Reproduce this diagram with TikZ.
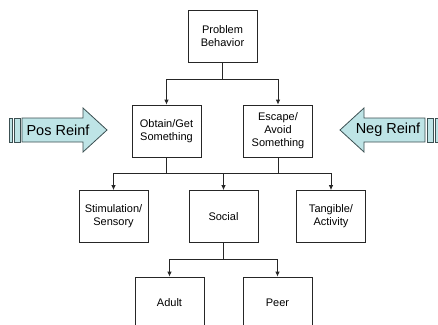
\documentclass[tikz,border=0pt]{standalone}
\usepackage{fontspec}
\setmainfont{Liberation Sans}
\usetikzlibrary{arrows.meta}
\definecolor{reinf}{RGB}{190,228,230}
\definecolor{reinfline}{RGB}{60,80,82}
\tikzset{
  fbox/.style={draw=black!85, line width=0.8pt, fill=white, minimum width=69pt,
    minimum height=52pt, align=center, inner sep=0pt,
    font=\fontsize{11}{13}\selectfont},
  link/.style={draw=black!85, line width=0.8pt},
  tip/.style={-{Latex[length=5pt,width=4.5pt]}},
  bigarrow/.style={draw=reinfline, line width=0.8pt, fill=reinf},
  bigtext/.style={font=\fontsize{14.5}{16}\selectfont, inner sep=0pt}
}
\begin{document}
\begin{tikzpicture}[x=1pt,y=-1pt]
    \useasboundingbox (0,0) rectangle (438,324);
    \clip (0,0) rectangle (438,324);

    % boxes
    \node[fbox] (prob)   at (222.5,36)  {Problem\\Behavior};
    \node[fbox] (obtain) at (166.5,131) {Obtain/Get\\Something};
    \node[fbox] (escape) at (278,131)   {Escape/\\Avoid\\Something};
    \node[fbox] (stim)   at (113.5,216.5) {Stimulation/\\Sensory};
    \node[fbox] (social) at (223.5,216.5) {Social};
    \node[fbox] (tang)   at (331,216.5) {Tangible/\\Activity};
    \node[fbox] (adult)  at (169.5,303) {Adult};
    \node[fbox] (peer)   at (277.5,303) {Peer};

    %%%%%%%%%%%%%%%%%%%%%%%%%%%%%%%%%%%%

    \coordinate (j1) at (prob.south |- 0,79);
    \draw[link] (prob.south) -- (j1);
    \draw[link,tip] (j1) -| (obtain.north);
    \draw[link,tip] (j1) -| (escape.north);

    \coordinate (j2) at (obtain.south |- 0,173);
    \coordinate (j3) at (escape.south |- 0,173);
    \coordinate (j4) at (social.north |- 0,173);
    \draw[link] (obtain.south) -- (j2);
    \draw[link] (escape.south) -- (j3);
    \draw[link] (j2) -- (j3);
    \draw[link,tip] (j2) -| (stim.north);
    \draw[link,tip] (j3) -| (tang.north);
    \draw[link,tip] (j4) -- (social.north);

    \coordinate (j5) at (social.south |- 0,259);
    \draw[link] (social.south) -- (j5);
    \draw[link,tip] (j5) -| (adult.north);
    \draw[link,tip] (j5) -| (peer.north);

    %%%%%%%%%%%%%%%%%%%%%%%%%%%%%%%%%%%%

    % striped arrows
    \draw[bigarrow] (9,118) rectangle (12,142);
    \draw[bigarrow] (14,118) rectangle (20,142);
    \draw[bigarrow] (22,118) -- (83,118) -- (83,108) -- (107,130)
      -- (83,152) -- (83,142) -- (22,142) -- cycle;
    \node[bigtext] (pos) at (58,130) {Pos Reinf};

    \draw[bigarrow] (435,118) rectangle (438,142);
    \draw[bigarrow] (427,118) rectangle (433,142);
    \draw[bigarrow] (425,118) -- (364,118) -- (364,108) -- (340,130)
      -- (364,152) -- (364,142) -- (425,142) -- cycle;
    \node[bigtext] (neg) at (388,130) {Neg Reinf};

\end{tikzpicture}
\end{document}
